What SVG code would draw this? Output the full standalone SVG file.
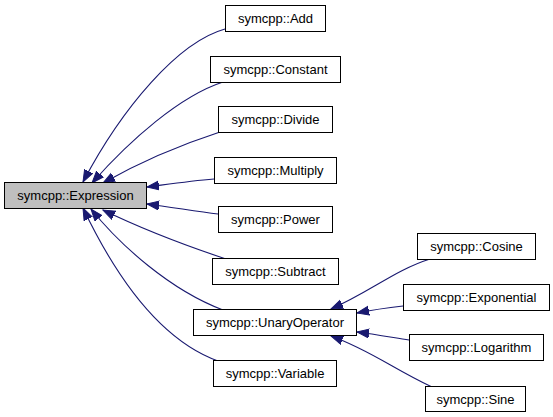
<svg xmlns="http://www.w3.org/2000/svg" width="553" height="417" viewBox="0 0 553 417">
<style>
.n rect{fill:#ffffff;stroke:#000000;stroke-width:1}
#expression rect{fill:#bfbfbf}
.n text{font-family:"Liberation Sans",Arial,sans-serif;font-size:13px;fill:#000000;text-anchor:middle}
.e path{fill:none;stroke:#191970;stroke-width:1.1;marker-end:url(#ah)}
</style>
<defs>
<marker id="ah" markerUnits="userSpaceOnUse" markerWidth="14" markerHeight="12" refX="12" refY="5" orient="auto">
<path d="M0,0.5 L12,5 L0,9.5 z" fill="#191970" stroke="#191970" stroke-width="1"/>
</marker>
</defs>
<rect width="553" height="417" fill="#ffffff"/>
<g id="edges" class="e">
<path d="M225,29 C178,42 122,108 83,182"/>
<path d="M223,82 C180,96 130,140 92,183"/>
<path d="M220,132 C180,145 140,162 103,183"/>
<path d="M214,179 C190,181 170,184 147,187"/>
<path d="M218,214 C195,211 170,207 147,204"/>
<path d="M226,259 C190,247 140,228 103,210"/>
<path d="M223,310 C170,290 120,245 91,209"/>
<path d="M218,361 C160,340 115,275 83,208"/>
<path d="M430,259 C395,270 370,292 331,309"/>
<path d="M403,306 C385,308 372,310 357,313"/>
<path d="M409,340 C390,337 373,334 357,332"/>
<path d="M432,387 C395,370 370,350 331,336"/>
</g>
<g id="expression" class="n"><rect x="4.5" y="182.5" width="142" height="26"/><text x="75.5" y="200">symcpp::Expression</text></g>
<g id="add" class="n"><rect x="225.5" y="5.5" width="100" height="26"/><text x="275.5" y="23">symcpp::Add</text></g>
<g id="constant" class="n"><rect x="210.5" y="56.5" width="130" height="26"/><text x="275.5" y="74">symcpp::Constant</text></g>
<g id="divide" class="n"><rect x="218.5" y="106.5" width="114" height="26"/><text x="275.5" y="124">symcpp::Divide</text></g>
<g id="multiply" class="n"><rect x="214.5" y="157.5" width="122" height="26"/><text x="275.5" y="175">symcpp::Multiply</text></g>
<g id="power" class="n"><rect x="218.5" y="206.5" width="114" height="26"/><text x="275.5" y="224">symcpp::Power</text></g>
<g id="subtract" class="n"><rect x="212.5" y="258.5" width="126" height="26"/><text x="275.5" y="276">symcpp::Subtract</text></g>
<g id="unaryoperator" class="n"><rect x="193.5" y="309.5" width="163" height="26"/><text x="275" y="327">symcpp::UnaryOperator</text></g>
<g id="variable" class="n"><rect x="213.5" y="360.5" width="123" height="26"/><text x="275" y="378">symcpp::Variable</text></g>
<g id="cosine" class="n"><rect x="417.5" y="233.5" width="118" height="26"/><text x="476.5" y="251">symcpp::Cosine</text></g>
<g id="exponential" class="n"><rect x="403.5" y="284.5" width="146" height="26"/><text x="476.5" y="302">symcpp::Exponential</text></g>
<g id="logarithm" class="n"><rect x="409.5" y="334.5" width="134" height="26"/><text x="476.5" y="352">symcpp::Logarithm</text></g>
<g id="sine" class="n"><rect x="425.5" y="386.5" width="100" height="25"/><text x="475.5" y="404">symcpp::Sine</text></g>
</svg>
